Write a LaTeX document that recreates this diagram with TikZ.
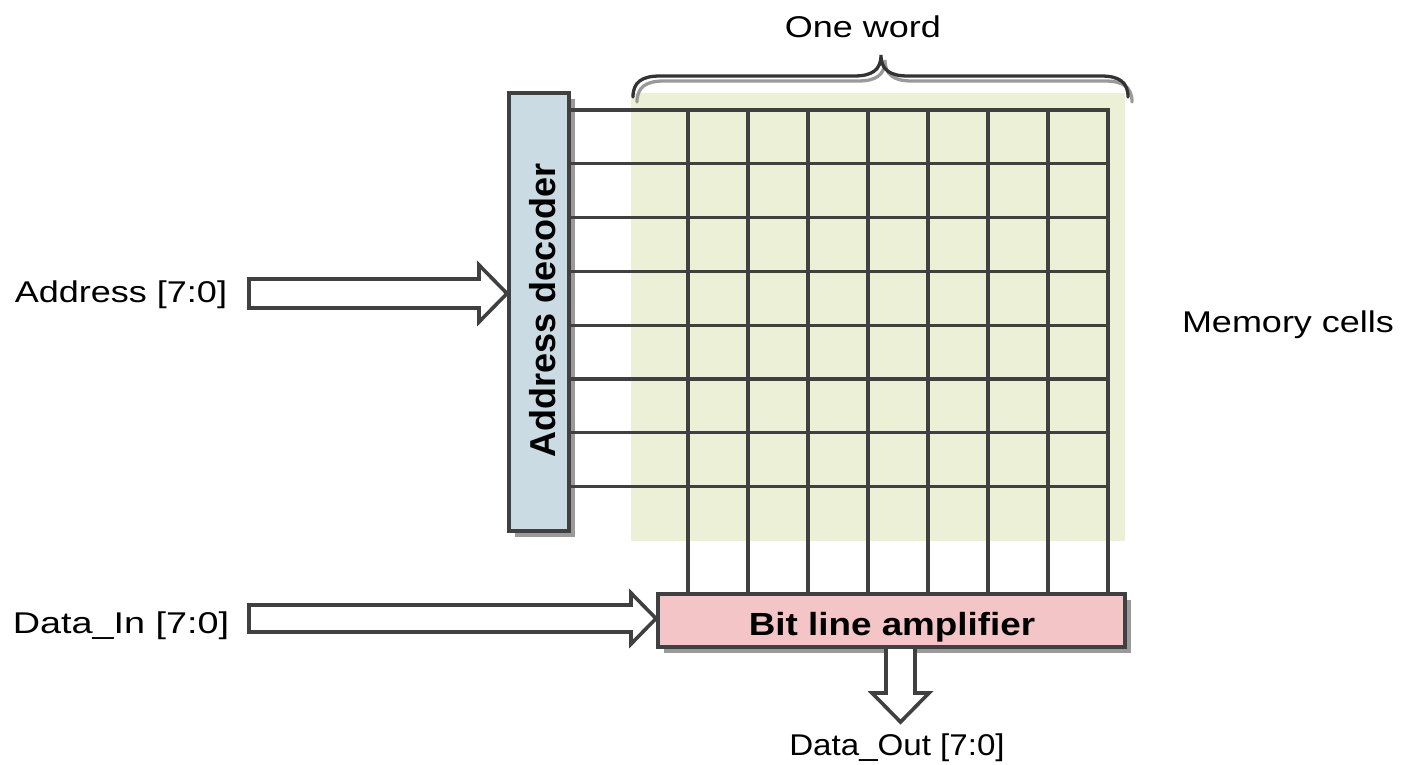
\documentclass[tikz,border=0pt]{standalone}
\usepackage{fontspec}
\setmainfont{Liberation Sans}
\newfontfamily\labelfont[FakeStretch=1.2]{Liberation Sans}
\newfontfamily\ampfont[FakeStretch=1.15]{Liberation Sans}
\usetikzlibrary{calc,shadows}

\definecolor{ink}{HTML}{404040}
\definecolor{braceink}{HTML}{333333}
\definecolor{shade}{HTML}{9A9A9A}
\definecolor{cellfill}{HTML}{EBF0D7}
\definecolor{decfill}{HTML}{CADBE3}
\definecolor{ampfill}{HTML}{F3C5C7}

\begin{document}
\begin{tikzpicture}[x=1pt,y=-1pt,
  wire/.style={draw=ink, line width=3.3pt},
  blockbox/.style={draw=ink, line width=4pt, inner sep=0pt,
    drop shadow={shadow xshift=6pt, shadow yshift=-6pt, fill=shade, opacity=1}},
  blockarrow/.style={draw=ink, line width=3.6pt, fill=white, line join=miter},
  lbl/.style={font=\labelfont\fontsize{30}{36}\selectfont, anchor=base, inner sep=0pt},
  bracestroke/.style={line width=3.3pt, line cap=round}]
\useasboundingbox (0,0) rectangle (1408,764);

% memory cell area
\fill[cellfill] (631,93) rectangle (1125,541);

% brace over one word (shadow first, then the stroke)
\foreach \dx/\dy/\col in {4/5/shade, 0/0/braceink}
  \draw[bracestroke, draw=\col, shift={(\dx,\dy)}]
    (633,97) .. controls (633,82) and (642,76) .. (660,76) -- (854,76)
    .. controls (872,76) and (881,70) .. (881,55)
    .. controls (881,70) and (890,76) .. (908,76) -- (1101,76)
    .. controls (1119,76) and (1128,82) .. (1128,97);

% address decoder and bit line amplifier
\node[blockbox, fill=decfill, minimum width=60pt, minimum height=438pt] (dec) at (539,312) {};
\node[blockbox, fill=ampfill, minimum width=467pt, minimum height=53pt] (amp) at (891.5,620.5) {};

\node[font=\bfseries\fontsize{36}{40}\selectfont, rotate=90, anchor=base, inner sep=0pt]
  (declbl) at (555,310) {Address decoder};
\node[font=\ampfont\bfseries\fontsize{32}{38}\selectfont, anchor=base, inner sep=0pt]
  (amplbl) at (892,635) {Bit line amplifier};

% word lines
\foreach \i in {0,...,7}
  \draw[wire] (dec.east |- 0,{110+53.8*\i}) -- (1109.6,{110+53.8*\i});
% bit lines
\foreach \j in {0,...,7}
  \draw[wire] ({688+60*\j},108.4) -- ({688+60*\j},0 |- amp.north);

% labels
\node[lbl] (oneword) at (863,37) {One word};
\node[lbl] (addr) at (121,302) {Address [7:0]};
\node[lbl] (cells) at (1288,332) {Memory cells};
\node[lbl] (din) at (121,633) {\scalebox{1.05}[1]{Data\_In [7:0]}};
\node[lbl] (dout) at (897,755) {\scalebox{0.92}[1]{Data\_Out [7:0]}};

% bus arrows
\coordinate (ain) at (249,293.5);
\coordinate (dinstart) at (249,618.5);
\coordinate (doutstart) at ($(amp.south)+(9,0)$);
\coordinate (douttip) at (900.5,722);

\draw[blockarrow] let \p1=(ain), \p2=(dec.west |- ain) in
  (\x1,{\y2+14.5pt}) -- ({\x2-28pt},{\y2+14.5pt}) -- ({\x2-28pt},{\y2+28.5pt})
  -- (\x2,\y2) -- ({\x2-28pt},{\y2-28.5pt}) -- ({\x2-28pt},{\y2-14.5pt})
  -- (\x1,{\y2-14.5pt}) -- cycle;

\draw[blockarrow] let \p1=(dinstart), \p2=(amp.west |- dinstart) in
  (\x1,{\y2+13.5pt}) -- ({\x2-25pt},{\y2+13.5pt}) -- ({\x2-25pt},{\y2+25.5pt})
  -- (\x2,\y2) -- ({\x2-25pt},{\y2-25.5pt}) -- ({\x2-25pt},{\y2-13.5pt})
  -- (\x1,{\y2-13.5pt}) -- cycle;

\draw[blockarrow] let \p1=(doutstart), \p2=(doutstart |- douttip) in
  ({\x1-14.5pt},\y1) -- ({\x1-14.5pt},{\y2+29pt}) -- ({\x1-28.5pt},{\y2+29pt})
  -- (\x1,\y2) -- ({\x1+28.5pt},{\y2+29pt}) -- ({\x1+14.5pt},{\y2+29pt})
  -- ({\x1+14.5pt},\y1);
\end{tikzpicture}
\end{document}
